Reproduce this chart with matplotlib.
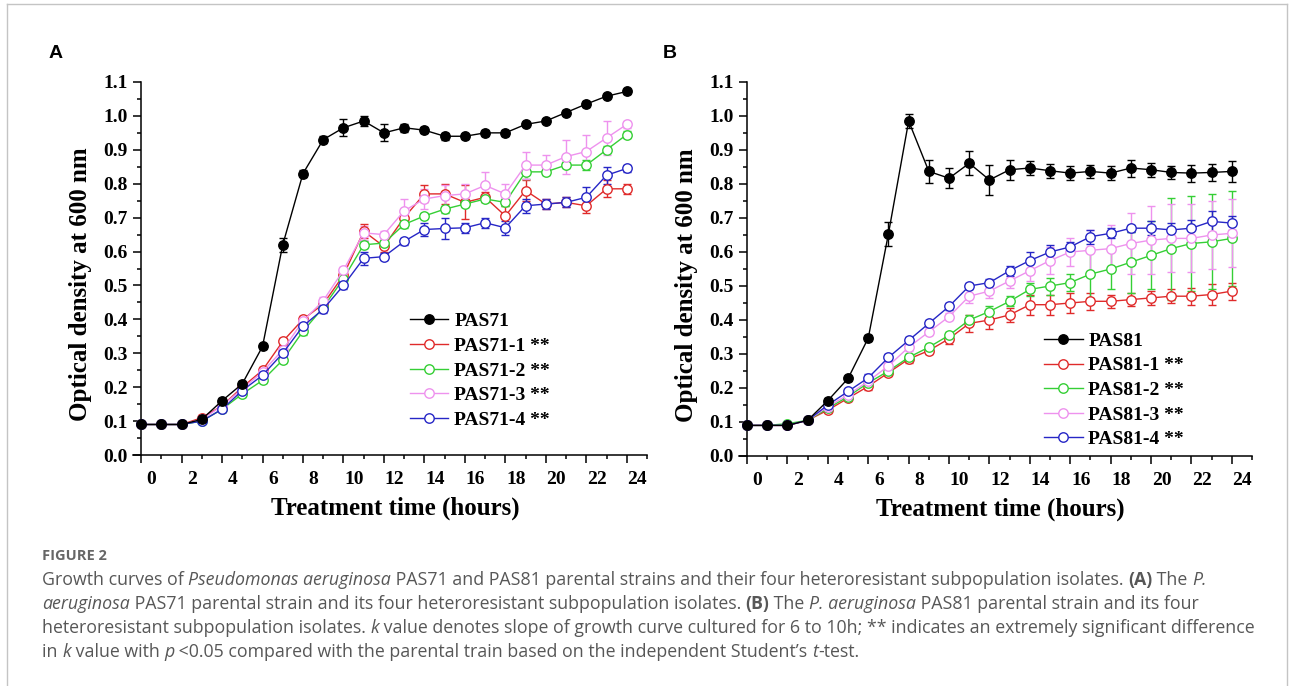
import matplotlib
matplotlib.use("Agg")
import matplotlib.pyplot as plt
from matplotlib.lines import Line2D
from matplotlib.transforms import ScaledTranslation
from matplotlib.ticker import MultipleLocator

# --- Data (OD600) ---
hours = list(range(25))

a_labels = ["PAS71", "PAS71-1 **", "PAS71-2 **", "PAS71-3 **", "PAS71-4 **"]
a_pas71 = [0.09, 0.09, 0.09, 0.105, 0.16, 0.21, 0.32, 0.62, 0.83, 0.93, 0.965, 0.985, 0.95,
           0.965, 0.958, 0.94, 0.94, 0.95, 0.95, 0.975, 0.985, 1.01, 1.035, 1.058, 1.072]
a_pas71_1 = [0.09, 0.09, 0.09, 0.11, 0.145, 0.20, 0.25, 0.335, 0.40, 0.445, 0.53, 0.66, 0.615,
             0.70, 0.77, 0.77, 0.745, 0.76, 0.705, 0.78, 0.74, 0.745, 0.735, 0.785, 0.785]
a_pas71_2 = [0.09, 0.09, 0.09, 0.10, 0.135, 0.18, 0.22, 0.28, 0.365, 0.435, 0.52, 0.62, 0.625,
             0.68, 0.705, 0.725, 0.74, 0.755, 0.745, 0.835, 0.835, 0.855, 0.855, 0.90, 0.945]
a_pas71_3 = [0.09, 0.09, 0.09, 0.105, 0.145, 0.195, 0.245, 0.31, 0.395, 0.455, 0.545, 0.655, 0.65,
             0.72, 0.755, 0.765, 0.77, 0.795, 0.77, 0.855, 0.855, 0.88, 0.895, 0.935, 0.975]
a_pas71_4 = [0.09, 0.09, 0.09, 0.10, 0.135, 0.19, 0.235, 0.30, 0.38, 0.43, 0.50, 0.58, 0.585,
             0.63, 0.665, 0.668, 0.67, 0.685, 0.67, 0.735, 0.74, 0.745, 0.76, 0.825, 0.845]
a_err = [
    [0.005, 0.005, 0.005, 0.005, 0.008, 0.008, 0.008, 0.02, 0.01, 0.01, 0.025, 0.015, 0.025,
     0.012, 0.008, 0.01, 0.008, 0.008, 0.008, 0.006, 0.006, 0.006, 0.008, 0.006, 0.006],
    [0.005, 0.005, 0.005, 0.008, 0.01, 0.01, 0.01, 0.01, 0.01, 0.01, 0.015, 0.02, 0.015,
     0.02, 0.025, 0.03, 0.05, 0.015, 0.03, 0.03, 0.015, 0.015, 0.02, 0.025, 0.015],
    [0.005, 0.005, 0.005, 0.005, 0.008, 0.008, 0.008, 0.008, 0.01, 0.01, 0.01, 0.01, 0.01,
     0.01, 0.01, 0.01, 0.01, 0.01, 0.01, 0.02, 0.01, 0.01, 0.015, 0.01, 0.01],
    [0.005, 0.005, 0.005, 0.005, 0.008, 0.008, 0.008, 0.01, 0.01, 0.01, 0.01, 0.02, 0.01,
     0.035, 0.03, 0.03, 0.03, 0.04, 0.03, 0.04, 0.03, 0.05, 0.05, 0.05, 0.01],
    [0.005, 0.005, 0.005, 0.005, 0.008, 0.008, 0.008, 0.01, 0.015, 0.01, 0.01, 0.02, 0.01,
     0.01, 0.02, 0.03, 0.015, 0.015, 0.02, 0.02, 0.015, 0.015, 0.03, 0.025, 0.01],
]

b_labels = ["PAS81", "PAS81-1 **", "PAS81-2 **", "PAS81-3 **", "PAS81-4 **"]
b_pas81 = [0.09, 0.09, 0.09, 0.105, 0.163, 0.228, 0.347, 0.654, 0.985, 0.837, 0.817, 0.861, 0.812,
           0.842, 0.847, 0.839, 0.832, 0.837, 0.832, 0.847, 0.842, 0.834, 0.832, 0.834, 0.837]
b_pas81_1 = [0.09, 0.09, 0.09, 0.105, 0.135, 0.17, 0.205, 0.245, 0.285, 0.31, 0.345, 0.39, 0.40,
             0.415, 0.445, 0.445, 0.45, 0.455, 0.455, 0.46, 0.465, 0.47, 0.47, 0.475, 0.485]
b_pas81_2 = [0.09, 0.09, 0.095, 0.105, 0.14, 0.175, 0.215, 0.25, 0.29, 0.32, 0.355, 0.40, 0.425,
             0.455, 0.49, 0.50, 0.51, 0.535, 0.55, 0.57, 0.59, 0.61, 0.625, 0.63, 0.64]
b_pas81_3 = [0.09, 0.09, 0.09, 0.105, 0.145, 0.18, 0.22, 0.265, 0.32, 0.365, 0.41, 0.47, 0.485,
             0.515, 0.545, 0.575, 0.60, 0.605, 0.61, 0.625, 0.635, 0.64, 0.64, 0.65, 0.655]
b_pas81_4 = [0.09, 0.09, 0.09, 0.105, 0.15, 0.19, 0.23, 0.29, 0.34, 0.39, 0.44, 0.50, 0.51,
             0.545, 0.575, 0.60, 0.615, 0.645, 0.655, 0.67, 0.67, 0.665, 0.67, 0.69, 0.685]
b_err = [
    [0.005, 0.005, 0.005, 0.005, 0.008, 0.008, 0.01, 0.035, 0.02, 0.035, 0.03, 0.035, 0.045,
     0.03, 0.02, 0.02, 0.02, 0.02, 0.02, 0.025, 0.02, 0.02, 0.025, 0.025, 0.03],
    [0.005, 0.005, 0.005, 0.005, 0.008, 0.008, 0.01, 0.01, 0.01, 0.01, 0.015, 0.025, 0.025,
     0.02, 0.03, 0.03, 0.03, 0.025, 0.02, 0.02, 0.02, 0.02, 0.025, 0.03, 0.025],
    [0.005, 0.005, 0.005, 0.005, 0.008, 0.008, 0.01, 0.01, 0.01, 0.01, 0.01, 0.015, 0.015,
     0.015, 0.02, 0.025, 0.025, 0.07, 0.06, 0.09, 0.10, 0.15, 0.14, 0.14, 0.14],
    [0.005, 0.005, 0.005, 0.005, 0.008, 0.008, 0.01, 0.01, 0.01, 0.01, 0.01, 0.02, 0.02,
     0.02, 0.03, 0.04, 0.04, 0.06, 0.07, 0.09, 0.10, 0.10, 0.10, 0.10, 0.10],
    [0.005, 0.005, 0.005, 0.005, 0.008, 0.008, 0.01, 0.01, 0.01, 0.01, 0.01, 0.01, 0.01,
     0.015, 0.025, 0.02, 0.015, 0.02, 0.015, 0.01, 0.02, 0.02, 0.025, 0.03, 0.02],
]

x_ticks = list(range(0, 25, 2))
y_ticks = [i / 10 for i in range(12)]

# --- Styling ---
W, H = 1293, 686
colors = ["#000000", "#e02a2a", "#35cf35", "#ee92ee", "#2626c6"]
serif = "Liberation Serif"
plt.rcParams["font.family"] = serif
plt.rcParams["font.weight"] = "bold"

fig = plt.figure(figsize=(W / 100, H / 100), dpi=100)
fig.patch.set_facecolor("white")


def px_box(left, right, top, bottom):
    return [left / W, 1 - bottom / H, (right - left) / W, (bottom - top) / H]


def draw_panel(ax, series, errs, labels, leg_anchor):
    # parent strain drawn last so it sits on top
    for i in [1, 2, 3, 4, 0]:
        face = colors[i] if i == 0 else "white"
        ax.errorbar(hours, series[i], yerr=errs[i], color=colors[i], marker="o",
                    markersize=6.8, markerfacecolor=face, markeredgewidth=1.0,
                    linewidth=1.0, elinewidth=1.0, capsize=3, capthick=1.0,
                    zorder=5 if i == 0 else 3, clip_on=False)

    ax.set_xlim(-0.4, 25)
    ax.set_ylim(0, 1.1)
    ax.spines["top"].set_visible(False)
    ax.spines["right"].set_visible(False)
    ax.spines["left"].set_position(("data", 0))
    for s in ["left", "bottom"]:
        ax.spines[s].set_linewidth(1.1)

    ax.set_yticks(y_ticks, [f"{v:.1f}" for v in y_ticks])
    ax.yaxis.set_minor_locator(MultipleLocator(0.05))
    ax.set_xticks(x_ticks, [str(v) for v in x_ticks])
    ax.xaxis.set_minor_locator(MultipleLocator(1))
    ax.tick_params(which="major", direction="out", length=5.5, width=1.1,
                   labelsize=14, pad=4)
    ax.tick_params(which="minor", direction="out", length=3, width=1.1)
    ax.tick_params(axis="x", which="major", pad=6)

    # tick labels sit a bit to the right of their tick marks in the original
    shift = ScaledTranslation(10.5 / 100, 0, fig.dpi_scale_trans)
    for lab in ax.get_xticklabels():
        lab.set_transform(lab.get_transform() + shift)
        lab.set_fontweight("bold")
    for lab in ax.get_yticklabels():
        lab.set_fontweight("bold")

    ax.set_xlabel("Treatment time (hours)", fontsize=18, fontweight="bold")
    ax.xaxis.set_label_coords(0.51, -0.112)
    ax.set_ylabel("Optical density at 600 nm", fontsize=18, fontweight="bold")
    ax.yaxis.set_label_coords(-0.08, 0.457)

    handles = []
    for i in range(5):
        face = colors[i] if i == 0 else "white"
        handles.append(Line2D([], [], color=colors[i], marker="o", markersize=6.8,
                              markerfacecolor=face, markeredgewidth=1.0, linewidth=1.0))
    ax.legend(handles, labels, loc="center left", bbox_to_anchor=leg_anchor,
              frameon=False, borderpad=0, borderaxespad=0, handlelength=2.0,
              handletextpad=0.3, labelspacing=0.36,
              prop={"family": serif, "weight": "bold", "size": 14})


ax_a = fig.add_axes(px_box(133, 647, 82, 455))
draw_panel(ax_a, [a_pas71, a_pas71_1, a_pas71_2, a_pas71_3, a_pas71_4], a_err,
           a_labels, (0.538, 0.226))

ax_b = fig.add_axes(px_box(739, 1252, 82, 456))
draw_panel(ax_b, [b_pas81, b_pas81_1, b_pas81_2, b_pas81_3, b_pas81_4], b_err,
           b_labels, (0.594, 0.176))

fig.text(56 / W, 1 - 53 / H, "A", family="Liberation Sans", weight="bold",
         fontsize=14, ha="center", va="center")
fig.text(670 / W, 1 - 53 / H, "B", family="Liberation Sans", weight="bold",
         fontsize=14, ha="center", va="center")

# --- Caption ---
cap_font = "Open Sans"
cap_color = "#575757"
cap_size = 12.8
renderer = fig.canvas.get_renderer()


def seg_width(s, style, weight):
    # bars around the text keep leading/trailing spaces in the measurement
    t1 = fig.text(0, 0, "|" + s + "|", family=cap_font, fontsize=cap_size,
                  style=style, weight=weight)
    t2 = fig.text(0, 0, "||", family=cap_font, fontsize=cap_size,
                  style=style, weight=weight)
    w = t1.get_window_extent(renderer).width - t2.get_window_extent(renderer).width
    t1.remove()
    t2.remove()
    return w


def caption_line(y, segs, x0=42):
    x = x0
    for s, style, weight in segs:
        fig.text(x / W, 1 - y / H, s, family=cap_font, fontsize=cap_size, style=style,
                 weight=weight, color=cap_color, ha="left", va="center")
        x += seg_width(s, style, weight)


N, I, B = "normal", "italic", "bold"
fig.text(42 / W, 1 - 556 / H, "FIGURE 2", family=cap_font, fontsize=10.5, weight="bold",
         color="#666666", ha="left", va="center")
caption_line(580, [("Growth curves of ", N, N), ("Pseudomonas aeruginosa", I, N),
                   (" PAS71 and PAS81 parental strains and their four heteroresistant "
                    "subpopulation isolates. ", N, N), ("(A)", N, B), (" The ", N, N),
                   ("P.", I, N)])
caption_line(604, [("aeruginosa", I, N),
                   (" PAS71 parental strain and its four heteroresistant subpopulation "
                    "isolates. ", N, N), ("(B)", N, B), (" The ", N, N),
                   ("P. aeruginosa", I, N), (" PAS81 parental strain and its four", N, N)])
caption_line(628, [("heteroresistant subpopulation isolates. ", N, N), ("k", I, N),
                   (" value denotes slope of growth curve cultured for 6 to 10h; ** indicates "
                    "an extremely significant difference", N, N)])
caption_line(652, [("in ", N, N), ("k", I, N), (" value with ", N, N), ("p", I, N),
                   (" <0.05 compared with the parental train based on the independent "
                    "Student\u2019s ", N, N), ("t", I, N), ("-test.", N, N)])

# thin frame around the figure (bottom edge falls outside the crop)
frame_kw = dict(color="#c4c4c4", linewidth=1.0, transform=fig.transFigure)
fig.add_artist(Line2D([7 / W, 7 / W], [0, 1 - 4 / H], **frame_kw))
fig.add_artist(Line2D([7 / W, 1287 / W], [1 - 4 / H, 1 - 4 / H], **frame_kw))
fig.add_artist(Line2D([1287 / W, 1287 / W], [0, 1 - 4 / H], **frame_kw))

fig.savefig("out.png", dpi=100)
plt.close(fig)
